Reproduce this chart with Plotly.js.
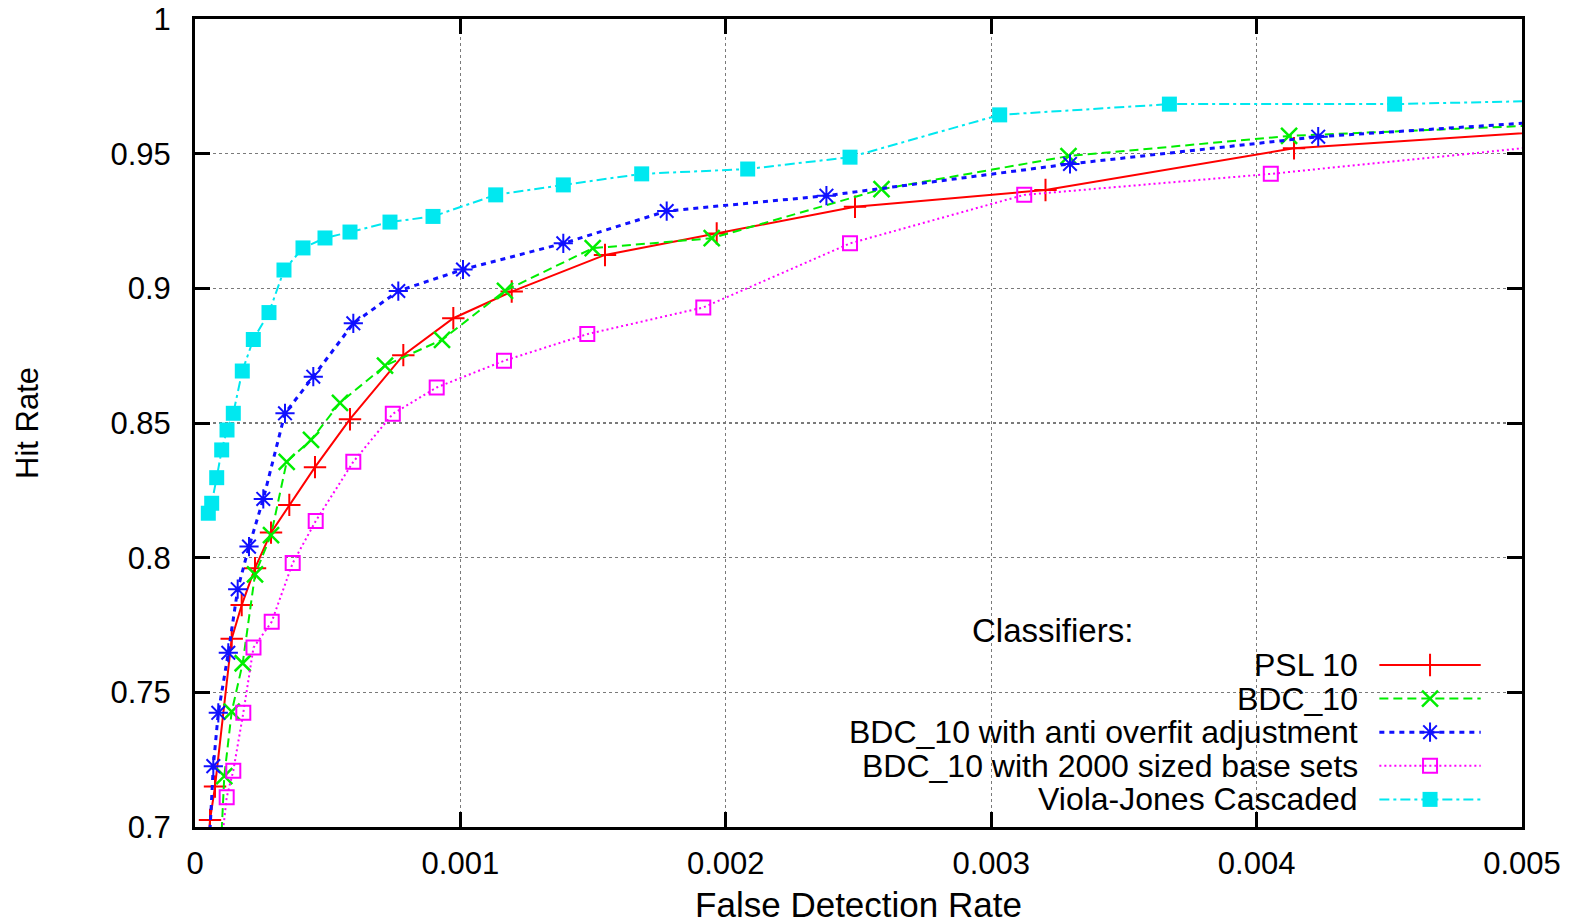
<!DOCTYPE html>
<html>
<head>
<meta charset="utf-8">
<script src="https://cdn.plot.ly/plotly-3.0.1.min.js"></script>
<style>
  html, body { margin: 0; padding: 0; background: #ffffff; }
  #chart { width: 1570px; height: 924px; }
</style>
</head>
<body>
<div id="chart"></div>
<script>
// ---------------- data ----------------
const seriesNames = [
  "PSL 10",
  "BDC_10",
  "BDC_10 with anti overfit adjustment",
  "BDC_10 with 2000 sized base sets",
  "Viola-Jones Cascaded"
];
const legendTitle = "Classifiers:";

const psl10_x = [0.0000509, 0.0000565, 0.0000754, 0.0001383, 0.000176, 0.0002261, 0.0002864, 0.0003553, 0.0004521, 0.000584, 0.0007849, 0.0009733, 0.0011933, 0.0015448, 0.0019657, 0.0024868, 0.0032046, 0.004141, 0.00525];
const psl10_y = [0.6952, 0.7026, 0.7150, 0.7699, 0.7824, 0.7961, 0.8093, 0.8196, 0.8336, 0.8514, 0.8752, 0.8889, 0.8988, 0.9124, 0.9204, 0.9303, 0.9365, 0.9520, 0.9592];

const bdc10_x = [0.000098, 0.0001104, 0.0001383, 0.0001797, 0.0002261, 0.0002864, 0.0003455, 0.0004371, 0.0005463, 0.0007159, 0.0009307, 0.001168, 0.0014985, 0.0019469, 0.0025867, 0.0032912, 0.0041224, 0.00525];
const bdc10_y = [0.6933, 0.7189, 0.7428, 0.7608, 0.7938, 0.8084, 0.8356, 0.8437, 0.8575, 0.8713, 0.8809, 0.8991, 0.9149, 0.9186, 0.9368, 0.9491, 0.9566, 0.9613];

const antiOverfit_x = [0.0000546, 0.000069, 0.0000878, 0.0001255, 0.0001609, 0.0002035, 0.0002573, 0.0003391, 0.0004457, 0.0005965, 0.000766, 0.0010098, 0.0013877, 0.0017773, 0.0023791, 0.0032969, 0.0042321, 0.00525];
const antiOverfit_y = [0.6952, 0.7226, 0.7424, 0.7647, 0.7883, 0.8041, 0.8218, 0.8536, 0.8672, 0.8870, 0.8990, 0.9070, 0.9167, 0.9287, 0.9344, 0.9462, 0.9563, 0.9629];

const base2000_x = [0.0001017, 0.0001194, 0.0001443, 0.000182, 0.0002204, 0.000289, 0.0003681, 0.0004548, 0.0005965, 0.0007453, 0.0009107, 0.0011643, 0.0014781, 0.0019152, 0.002468, 0.0031244, 0.0040535, 0.00525];
const base2000_y = [0.6952, 0.7110, 0.7209, 0.7424, 0.7666, 0.7762, 0.7980, 0.8136, 0.8356, 0.8534, 0.8632, 0.8731, 0.8830, 0.8929, 0.9167, 0.9347, 0.9425, 0.9545];

const violaJones_x = [0.0000501, 0.0000629, 0.0000818, 0.0001006, 0.0001206, 0.0001443, 0.0001782, 0.0002197, 0.0002788, 0.0003353, 0.0004069, 0.0004898, 0.000584, 0.0007347, 0.0008968, 0.001133, 0.0013877, 0.0016831, 0.0020825, 0.002468, 0.003032, 0.0036714, 0.00452, 0.00525];
const violaJones_y = [0.8165, 0.8202, 0.8297, 0.8400, 0.8474, 0.8536, 0.8693, 0.8810, 0.8910, 0.9068, 0.9150, 0.9187, 0.9209, 0.9246, 0.9267, 0.9347, 0.9384, 0.9425, 0.9443, 0.9487, 0.9644, 0.9684, 0.9684, 0.9700];

const xTickVals = [0, 0.001, 0.002, 0.003, 0.004, 0.005];
const xTickText = ["0", "0.001", "0.002", "0.003", "0.004", "0.005"];
const yTickVals = [0.7, 0.75, 0.8, 0.85, 0.9, 0.95, 1];
const yTickText = ["0.7", "0.75", "0.8", "0.85", "0.9", "0.95", "1"];
const xAxisTitle = "False Detection Rate";
const yAxisTitle = "Hit Rate";

// ---------------- styles ----------------
const FONT = "Liberation Sans, Arial, Helvetica, sans-serif";
const styles = [
  { color: "#ff0000", dash: "solid",             width: 2,   symbol: "cross-thin-open", msize: 16, mline: 2 },
  { color: "#00ee00", dash: "9px,5px",           width: 2,   symbol: "x-thin-open",     msize: 16, mline: 2.5 },
  { color: "#1010ff", dash: "5px,5px",           width: 3,   symbol: "asterisk-open",   msize: 16, mline: 2 },
  { color: "#ff00ff", dash: "2px,3px",           width: 2,   symbol: "square-open",     msize: 14, mline: 2 },
  { color: "#00e8f0", dash: "10px,4px,3px,4px",  width: 2,   symbol: "square",          msize: 15, mline: 0 }
];
const seriesX = [psl10_x, bdc10_x, antiOverfit_x, base2000_x, violaJones_x];
const seriesY = [psl10_y, bdc10_y, antiOverfit_y, base2000_y, violaJones_y];

const traces = [];
for (let i = 0; i < seriesNames.length; i++) {
  const s = styles[i];
  traces.push({
    type: "scatter",
    mode: "lines+markers",
    name: seriesNames[i],
    x: seriesX[i],
    y: seriesY[i],
    xaxis: "x", yaxis: "y",
    cliponaxis: true,
    showlegend: false,
    line: { color: s.color, width: s.width, dash: s.dash },
    marker: {
      symbol: s.symbol, size: s.msize, color: s.color,
      line: { color: s.color, width: s.mline }
    },
    hoverinfo: "skip"
  });
}

// ---------------- gnuplot-style key (text left, sample right) ----------------
const keyTop = 0.2005, keyStep = 0.04158;
const keySampleX = [0.8925, 0.9307, 0.9689];
const keyTextX = 0.8780;
const annotations = [];
for (let i = 0; i < seriesNames.length; i++) {
  const s = styles[i];
  const ry = keyTop - i * keyStep;
  traces.push({
    type: "scatter",
    mode: "lines+markers",
    x: keySampleX,
    y: [ry, ry, ry],
    xaxis: "x2", yaxis: "y2",
    showlegend: false,
    hoverinfo: "skip",
    line: { color: s.color, width: s.width, dash: s.dash },
    marker: {
      symbol: s.symbol, size: s.msize, color: s.color,
      opacity: [0, 1, 0],
      line: { color: s.color, width: s.mline }
    }
  });
  annotations.push({
    xref: "paper", yref: "paper",
    x: keyTextX, y: ry,
    xanchor: "right", yanchor: "middle",
    text: seriesNames[i],
    showarrow: false,
    font: { family: FONT, size: 32, color: "#000000" }
  });
}
annotations.push({
  xref: "paper", yref: "paper",
  x: 0.6462, y: 0.2435,
  xanchor: "center", yanchor: "middle",
  text: legendTitle,
  showarrow: false,
  font: { family: FONT, size: 33, color: "#000000" }
});

const axisCommon = {
  showline: true, linecolor: "#000000", linewidth: 3, mirror: "ticks",
  ticks: "inside", ticklen: 15, tickwidth: 3, tickcolor: "#000000",
  showgrid: true, gridcolor: "#7a7a7a", gridwidth: 1.2, griddash: "dot",
  zeroline: false, automargin: false,
  tickfont: { family: FONT, size: 31, color: "#000000" }
};

const layout = {
  width: 1570, height: 924,
  margin: { l: 195, r: 48, t: 19, b: 97 },
  paper_bgcolor: "#ffffff", plot_bgcolor: "#ffffff",
  showlegend: false,
  font: { family: FONT, color: "#000000" },
  xaxis: Object.assign({}, axisCommon, {
    range: [0, 0.005],
    tickmode: "array", tickvals: xTickVals, ticktext: xTickText,
    ticklabelstandoff: 7,
    title: { text: xAxisTitle, font: { family: FONT, size: 35, color: "#000000" }, standoff: 42 }
  }),
  yaxis: Object.assign({}, axisCommon, {
    range: [0.7, 1],
    tickmode: "array", tickvals: yTickVals, ticktext: yTickText,
    ticklabelstandoff: 15,
    title: { text: yAxisTitle, font: { family: FONT, size: 31, color: "#000000" }, standoff: 63 }
  }),
  xaxis2: { overlaying: "x", anchor: "y2", range: [0, 1], visible: false, showgrid: false, zeroline: false },
  yaxis2: { overlaying: "y", anchor: "x2", range: [0, 1], visible: false, showgrid: false, zeroline: false },
  shapes: [{
    type: "rect", xref: "paper", yref: "paper",
    x0: 0.3067, x1: 0.9872, y0: 0.0, y1: 0.2624,
    fillcolor: "#ffffff", line: { width: 0 }, layer: "between"
  }],
  annotations: annotations
};

Plotly.newPlot("chart", traces, layout, { staticPlot: true, displayModeBar: false });
</script>
</body>
</html>
